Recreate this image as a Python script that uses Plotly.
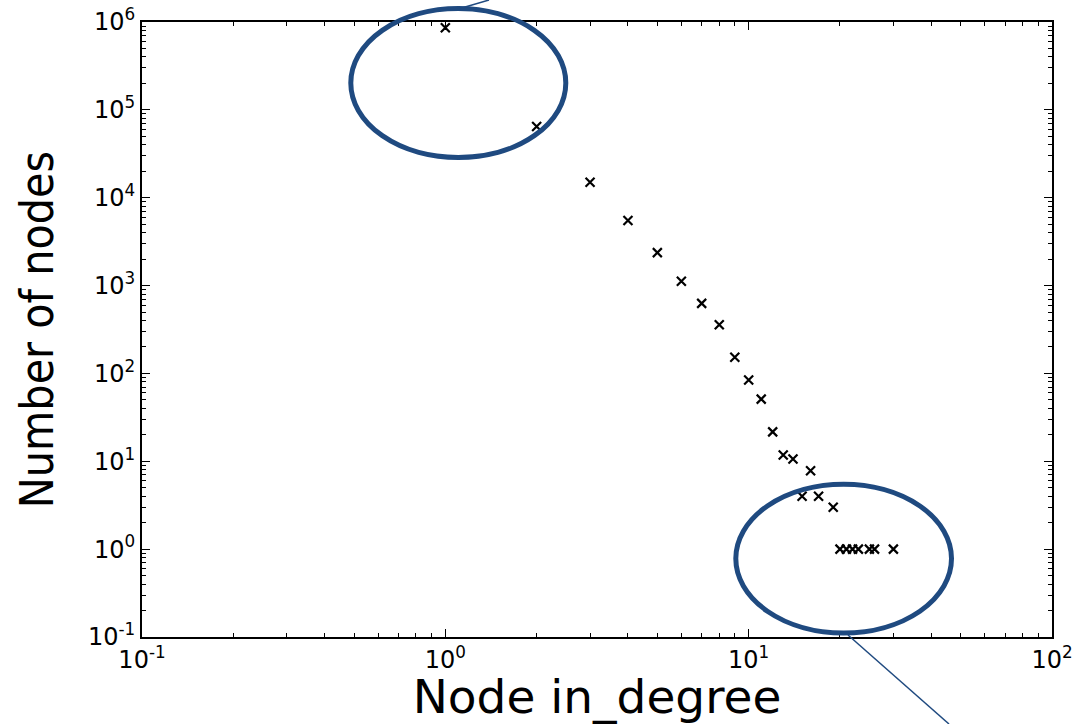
import plotly.graph_objects as go

# Data
in_degree = [1, 2, 3, 4, 5, 6, 7, 8, 9, 10, 11, 12, 13, 14, 15, 16, 17, 19,
             20, 21, 22, 23, 25, 26, 30]
num_nodes = [860000, 64500, 15000, 5500, 2370, 1120, 627, 359, 153, 84, 51, 21.6,
             11.8, 10.6, 4, 7.8, 4, 3, 1, 1, 1, 1, 1, 1, 1]

x_tickvals = [0.1, 1, 10, 100]
x_ticktext = ["10<sup>-1</sup>", "10<sup>0</sup>", "10<sup>1</sup>", "10<sup>2</sup>"]
y_tickvals = [0.1, 1, 10, 100, 1000, 10000, 100000, 1000000]
y_ticktext = ["10<sup>-1</sup>", "10<sup>0</sup>", "10<sup>1</sup>", "10<sup>2</sup>",
              "10<sup>3</sup>", "10<sup>4</sup>", "10<sup>5</sup>", "10<sup>6</sup>"]

W, H = 1081, 724
L, R, T, B = 142, 29, 22, 87
PW, PH = W - L - R, H - T - B


def px(x):
    return (x - L) / PW


def py(y):
    return (H - B - y) / PH


ELLIPSE_COLOR = "#1f4a80"

fig = go.Figure()
fig.add_trace(go.Scatter(
    x=in_degree, y=num_nodes, mode="markers",
    marker=dict(symbol="x-thin", size=9, color="black",
                line=dict(color="black", width=2.2)),
    showlegend=False,
))

axis_common = dict(
    type="log", showgrid=False, zeroline=False,
    showline=True, linecolor="black", linewidth=2, mirror="ticks",
    ticks="inside", ticklen=8, tickwidth=1.2, tickcolor="black",
    minor=dict(ticks="inside", ticklen=4, tickwidth=1, tickcolor="black", dtick="D1"),
    tickfont=dict(family="DejaVu Sans", size=24, color="black"),
    tickmode="array",
)

fig.update_xaxes(**axis_common, range=[-1, 2], tickvals=x_tickvals, ticktext=x_ticktext,
                 title=dict(text="Node in_degree", standoff=9,
                            font=dict(family="DejaVu Sans", size=47, color="black")))
fig.update_yaxes(**axis_common, range=[-1, 6], tickvals=y_tickvals, ticktext=y_ticktext,
                 title=dict(text="Number of nodes", standoff=20,
                            font=dict(family="DejaVu Sans Condensed, DejaVu Sans", size=46,
                                      color="black")))

shapes = [
    dict(type="circle", xref="paper", yref="paper",
         x0=px(350.8), x1=px(565.8), y0=py(157.5), y1=py(8.5),
         line=dict(color=ELLIPSE_COLOR, width=5), layer="above"),
    dict(type="line", xref="paper", yref="paper",
         x0=px(460), y0=py(8.5), x1=px(489), y1=py(0),
         line=dict(color=ELLIPSE_COLOR, width=1.5), layer="above"),
    dict(type="circle", xref="paper", yref="paper",
         x0=px(735.8), x1=px(951.5), y0=py(633), y1=py(484.2),
         line=dict(color=ELLIPSE_COLOR, width=5), layer="above"),
    dict(type="line", xref="paper", yref="paper",
         x0=px(848), y0=py(635), x1=px(949), y1=py(724),
         line=dict(color=ELLIPSE_COLOR, width=1.5), layer="above"),
]

fig.update_layout(
    width=W, height=H,
    margin=dict(l=L, r=R, t=T, b=B, autoexpand=False),
    paper_bgcolor="white", plot_bgcolor="white",
    shapes=shapes,
    font=dict(family="DejaVu Sans", color="black"),
)

fig.write_html("out.html")
